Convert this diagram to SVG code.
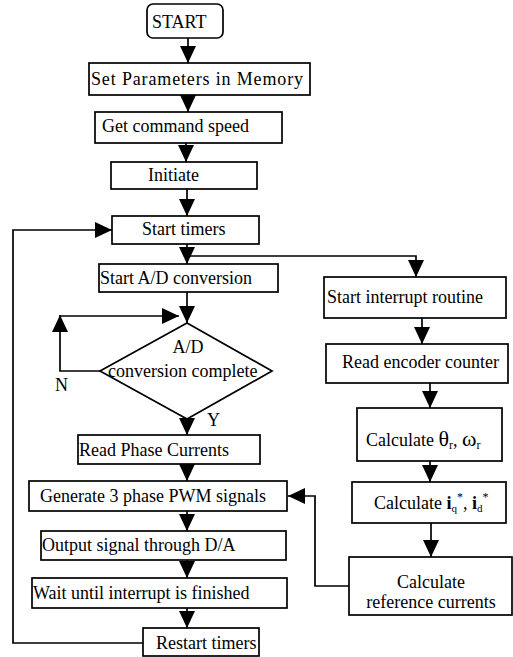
<svg xmlns="http://www.w3.org/2000/svg" width="513" height="657" viewBox="0 0 513 657">
<style>
.b{fill:#fff;stroke:#000;stroke-width:1.7}
.t{font-family:"Liberation Serif","Times New Roman",serif;font-size:18px;fill:#000}
.c{text-anchor:middle}
.l{fill:none;stroke:#000;stroke-width:1.7}
</style>
<defs>
<marker id="a" markerUnits="userSpaceOnUse" markerWidth="17" markerHeight="16" refX="17" refY="8" orient="auto">
<path d="M0,0 L17,8 L0,16 z" fill="#000"/>
</marker>
</defs>
<rect width="513" height="657" fill="#fff"/>
<g id="connectors">
<path class="l" d="M188,38 V63" marker-end="url(#a)"/>
<path class="l" d="M188,95 V112" marker-end="url(#a)"/>
<path class="l" d="M186,143 V162" marker-end="url(#a)"/>
<path class="l" d="M187,189 V216" marker-end="url(#a)"/>
<path class="l" d="M187,244 V264" marker-end="url(#a)"/>
<path class="l" d="M187,256 H416 V277" marker-end="url(#a)"/>
<path class="l" d="M187,292 V323" marker-end="url(#a)"/>
<path class="l" d="M100,371 H60 V315" marker-end="url(#a)"/>
<path class="l" d="M60,316 H179" marker-end="url(#a)"/>
<path class="l" d="M187,419 V435" marker-end="url(#a)"/>
<path class="l" d="M187,464 V481" marker-end="url(#a)"/>
<path class="l" d="M187,511 V531" marker-end="url(#a)"/>
<path class="l" d="M187,560 V578" marker-end="url(#a)"/>
<path class="l" d="M187,608 V628" marker-end="url(#a)"/>
<path class="l" d="M143,643 H13 V230 H112" marker-end="url(#a)"/>
<path class="l" d="M422,318 V344" marker-end="url(#a)"/>
<path class="l" d="M430,383 V408" marker-end="url(#a)"/>
<path class="l" d="M430,461 V482" marker-end="url(#a)"/>
<path class="l" d="M431,523 V557" marker-end="url(#a)"/>
<path class="l" d="M349,586 H315 V496 H288" marker-end="url(#a)"/>
</g>
<g id="start">
<rect class="b" x="147" y="4" width="76" height="34" rx="6"/>
<text class="t" x="152" y="28">START</text>
</g>
<g id="set-params">
<rect class="b" x="89" y="63" width="221" height="32"/>
<text class="t" x="91" y="85" textLength="212">Set Parameters in Memory</text>
</g>
<g id="get-speed">
<rect class="b" x="95" y="112" width="187" height="31"/>
<text class="t" x="102" y="132">Get command speed</text>
</g>
<g id="initiate">
<rect class="b" x="111" y="162" width="146" height="27"/>
<text class="t" x="148" y="181">Initiate</text>
</g>
<g id="start-timers">
<rect class="b" x="112" y="216" width="147" height="28"/>
<text class="t" x="142" y="235">Start timers</text>
</g>
<g id="start-ad">
<rect class="b" x="99" y="264" width="179" height="28"/>
<text class="t" x="100" y="284">Start A/D conversion</text>
</g>
<g id="ad-complete">
<polygon class="b" points="187,323 272,371 187,419 100,371"/>
<text class="t c" x="188" y="353">A/D</text>
<text class="t" x="108" y="377">conversion complete</text>
</g>
<g id="labels">
<text class="t" x="55" y="391">N</text>
<text class="t" x="207" y="426">Y</text>
</g>
<g id="read-phase">
<rect class="b" x="78" y="435" width="182" height="29"/>
<text class="t" x="79" y="456">Read Phase Currents</text>
</g>
<g id="generate-pwm">
<rect class="b" x="29" y="481" width="258" height="30"/>
<text class="t" x="40" y="502">Generate 3 phase PWM signals</text>
</g>
<g id="output-da">
<rect class="b" x="41" y="531" width="245" height="29"/>
<text class="t" x="42" y="551">Output signal through D/A</text>
</g>
<g id="wait">
<rect class="b" x="32" y="578" width="255" height="30"/>
<text class="t" x="33" y="599">Wait until interrupt is finished</text>
</g>
<g id="restart-timers">
<rect class="b" x="143" y="628" width="116" height="28"/>
<text class="t" x="156" y="649">Restart timers</text>
</g>
<g id="start-interrupt">
<rect class="b" x="324" y="277" width="182" height="41"/>
<text class="t" x="327" y="303">Start interrupt routine</text>
</g>
<g id="read-encoder">
<rect class="b" x="326" y="344" width="182" height="39"/>
<text class="t" x="342" y="368">Read encoder counter</text>
</g>
<g id="calc-theta">
<rect class="b" x="357" y="408" width="145" height="53"/>
<text class="t" x="366" y="446">Calculate <tspan font-size="22">θ</tspan><tspan font-size="12" dy="3">r</tspan><tspan dy="-3">, </tspan><tspan font-size="22">ω</tspan><tspan font-size="12" dy="3">r</tspan></text>
</g>
<g id="calc-iq">
<rect class="b" x="352" y="482" width="154" height="41"/>
<text class="t" x="374" y="509">Calculate <tspan font-weight="bold">i</tspan><tspan font-size="11" dy="3">q</tspan><tspan font-size="12" dy="-11">*</tspan><tspan dy="8">, </tspan><tspan font-weight="bold">i</tspan><tspan font-size="11" dy="3">d</tspan><tspan font-size="12" dy="-11">*</tspan></text>
</g>
<g id="calc-ref">
<rect class="b" x="349" y="557" width="163" height="58"/>
<text class="t c" x="431" y="588">Calculate</text>
<text class="t c" x="431" y="608">reference currents</text>
</g>
</svg>
